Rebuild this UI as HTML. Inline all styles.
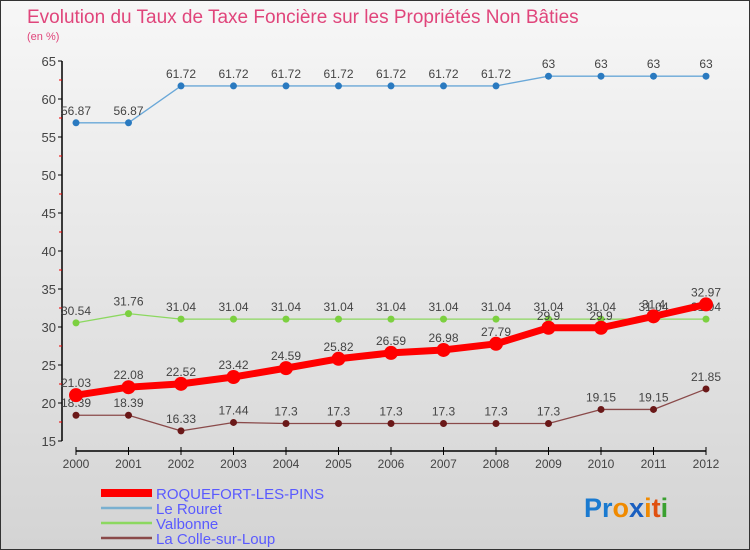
<!DOCTYPE html>
<html><head><meta charset="utf-8">
<style>
html,body{margin:0;padding:0;}
body{width:750px;height:550px;overflow:hidden;font-family:"Liberation Sans",sans-serif;}
#wrap{position:relative;width:748px;height:548px;border:1px solid #333;background:linear-gradient(#f7f7f7,#d4d4d4);}
svg{position:absolute;left:0;top:0;}
</style></head>
<body>
<div id="wrap">
<svg id="chart" width="748" height="548">
<text x="26" y="22" font-size="19" fill="#e0457b">Evolution du Taux de Taxe Foncière sur les Propriétés Non Bâties</text>
<text x="26" y="39" font-size="11" fill="#e0457b">(en %)</text>
<g id="axes"></g>
<g id="series"></g>
<g id="legend"></g>
<text x="583" y="516" font-size="27" font-weight="bold"><tspan fill="#1a7ad0">Pr</tspan><tspan fill="#f08a00">o</tspan><tspan fill="#1a5fc0">x</tspan><tspan fill="#f08a00">i</tspan><tspan fill="#e05010">t</tspan><tspan fill="#3aa030">i</tspan></text>
</svg>
</div>
<script>
const years=[2000,2001,2002,2003,2004,2005,2006,2007,2008,2009,2010,2011,2012];
const roquefort=[21.03,22.08,22.52,23.42,24.59,25.82,26.59,26.98,27.79,29.9,29.9,31.4,32.97];
const rouret=[56.87,56.87,61.72,61.72,61.72,61.72,61.72,61.72,61.72,63,63,63,63];
const valbonne=[30.54,31.76,31.04,31.04,31.04,31.04,31.04,31.04,31.04,31.04,31.04,31.04,31.04];
const colle=[18.39,18.39,16.33,17.44,17.3,17.3,17.3,17.3,17.3,17.3,19.15,19.15,21.85];
const yTicks=[15,20,25,30,35,40,45,50,55,60,65];
const seriesNames=["ROQUEFORT-LES-PINS","Le Rouret","Valbonne","La Colle-sur-Loup"];

const NS="http://www.w3.org/2000/svg";
const x0=75,x1=705,yTop=60,yBot=440,vMin=15,vMax=65;
function xs(i){return x0+(x1-x0)*i/(years.length-1);}
function ys(v){return yBot-(v-vMin)/(vMax-vMin)*(yBot-yTop);}
function mk(tag,attrs,parent){const e=document.createElementNS(NS,tag);for(const k in attrs)e.setAttribute(k,attrs[k]);parent.appendChild(e);return e;}
const axes=document.getElementById('axes');
let yl=mk('line',{x1:61,y1:yTop,x2:61,y2:yBot,stroke:'#000','stroke-width':1.5},axes);


yTicks.forEach(t=>{
  mk('line',{x1:57,y1:ys(t),x2:61,y2:ys(t),stroke:'#000'},axes);
  if(t<65){mk('line',{x1:58,y1:ys(t+2.5),x2:61,y2:ys(t+2.5),stroke:'#e00'},axes);}
  const tx=mk('text',{x:55,y:ys(t)+5,'text-anchor':'end','font-size':13,fill:'#444'},axes);
  tx.textContent=t;
  
  
});
let xl=mk('line',{x1:x0,y1:450,x2:x1,y2:450,stroke:'#000','stroke-width':1.5},axes);


years.forEach((y,i)=>{
  mk('line',{x1:xs(i),y1:446,x2:xs(i),y2:454,stroke:'#000'},axes);
  const tx=mk('text',{x:xs(i),y:467,'text-anchor':'middle','font-size':12,fill:'#444'},axes);
  tx.textContent=y;
  
  
});
const sg=document.getElementById('series');
function draw(data,color,w,r,name,ptColor){
  const g=mk('g',{},sg);
  
  
  const pts=data.map((v,i)=>xs(i)+','+ys(v)).join(' ');
  mk('polyline',{points:pts,fill:'none',stroke:color,'stroke-width':w,'stroke-linejoin':'round'},g);
  data.forEach((v,i)=>{
    const c=mk('circle',{cx:xs(i),cy:ys(v),r:r,fill:ptColor},g);
    
    
    const t=mk('text',{x:xs(i),y:ys(v)-8,'text-anchor':'middle','font-size':12,fill:'#444'},g);
    t.textContent=v;
    
    
  });
}
draw(rouret,'#6aa8d8',1.3,3.5,'series-le-rouret','#2a7ac0');
draw(valbonne,'#8cd860',1.3,3.5,'series-valbonne','#7cd040');
draw(colle,'#8a4a4a',1.3,3.5,'series-la-colle-sur-loup','#6a1818');
draw(roquefort,'#f00',7,7,'series-roquefort-les-pins','#f00');
const lg=document.getElementById('legend');
const lc=[['#f00',8],['#7ab0d0',2.5],['#8cd860',2.5],['#8a4a4a',2.5]];
seriesNames.forEach((n,i)=>{
  const y=492+i*15;
  const g=mk('g',{},lg);
  
  
  mk('line',{x1:100,y1:y,x2:151,y2:y,stroke:lc[i][0],'stroke-width':lc[i][1]},g);
  const t=mk('text',{x:155,y:y+6,'font-size':15,fill:'#5a5aff'},g);
  t.textContent=n;
});
</script>
</body></html>
